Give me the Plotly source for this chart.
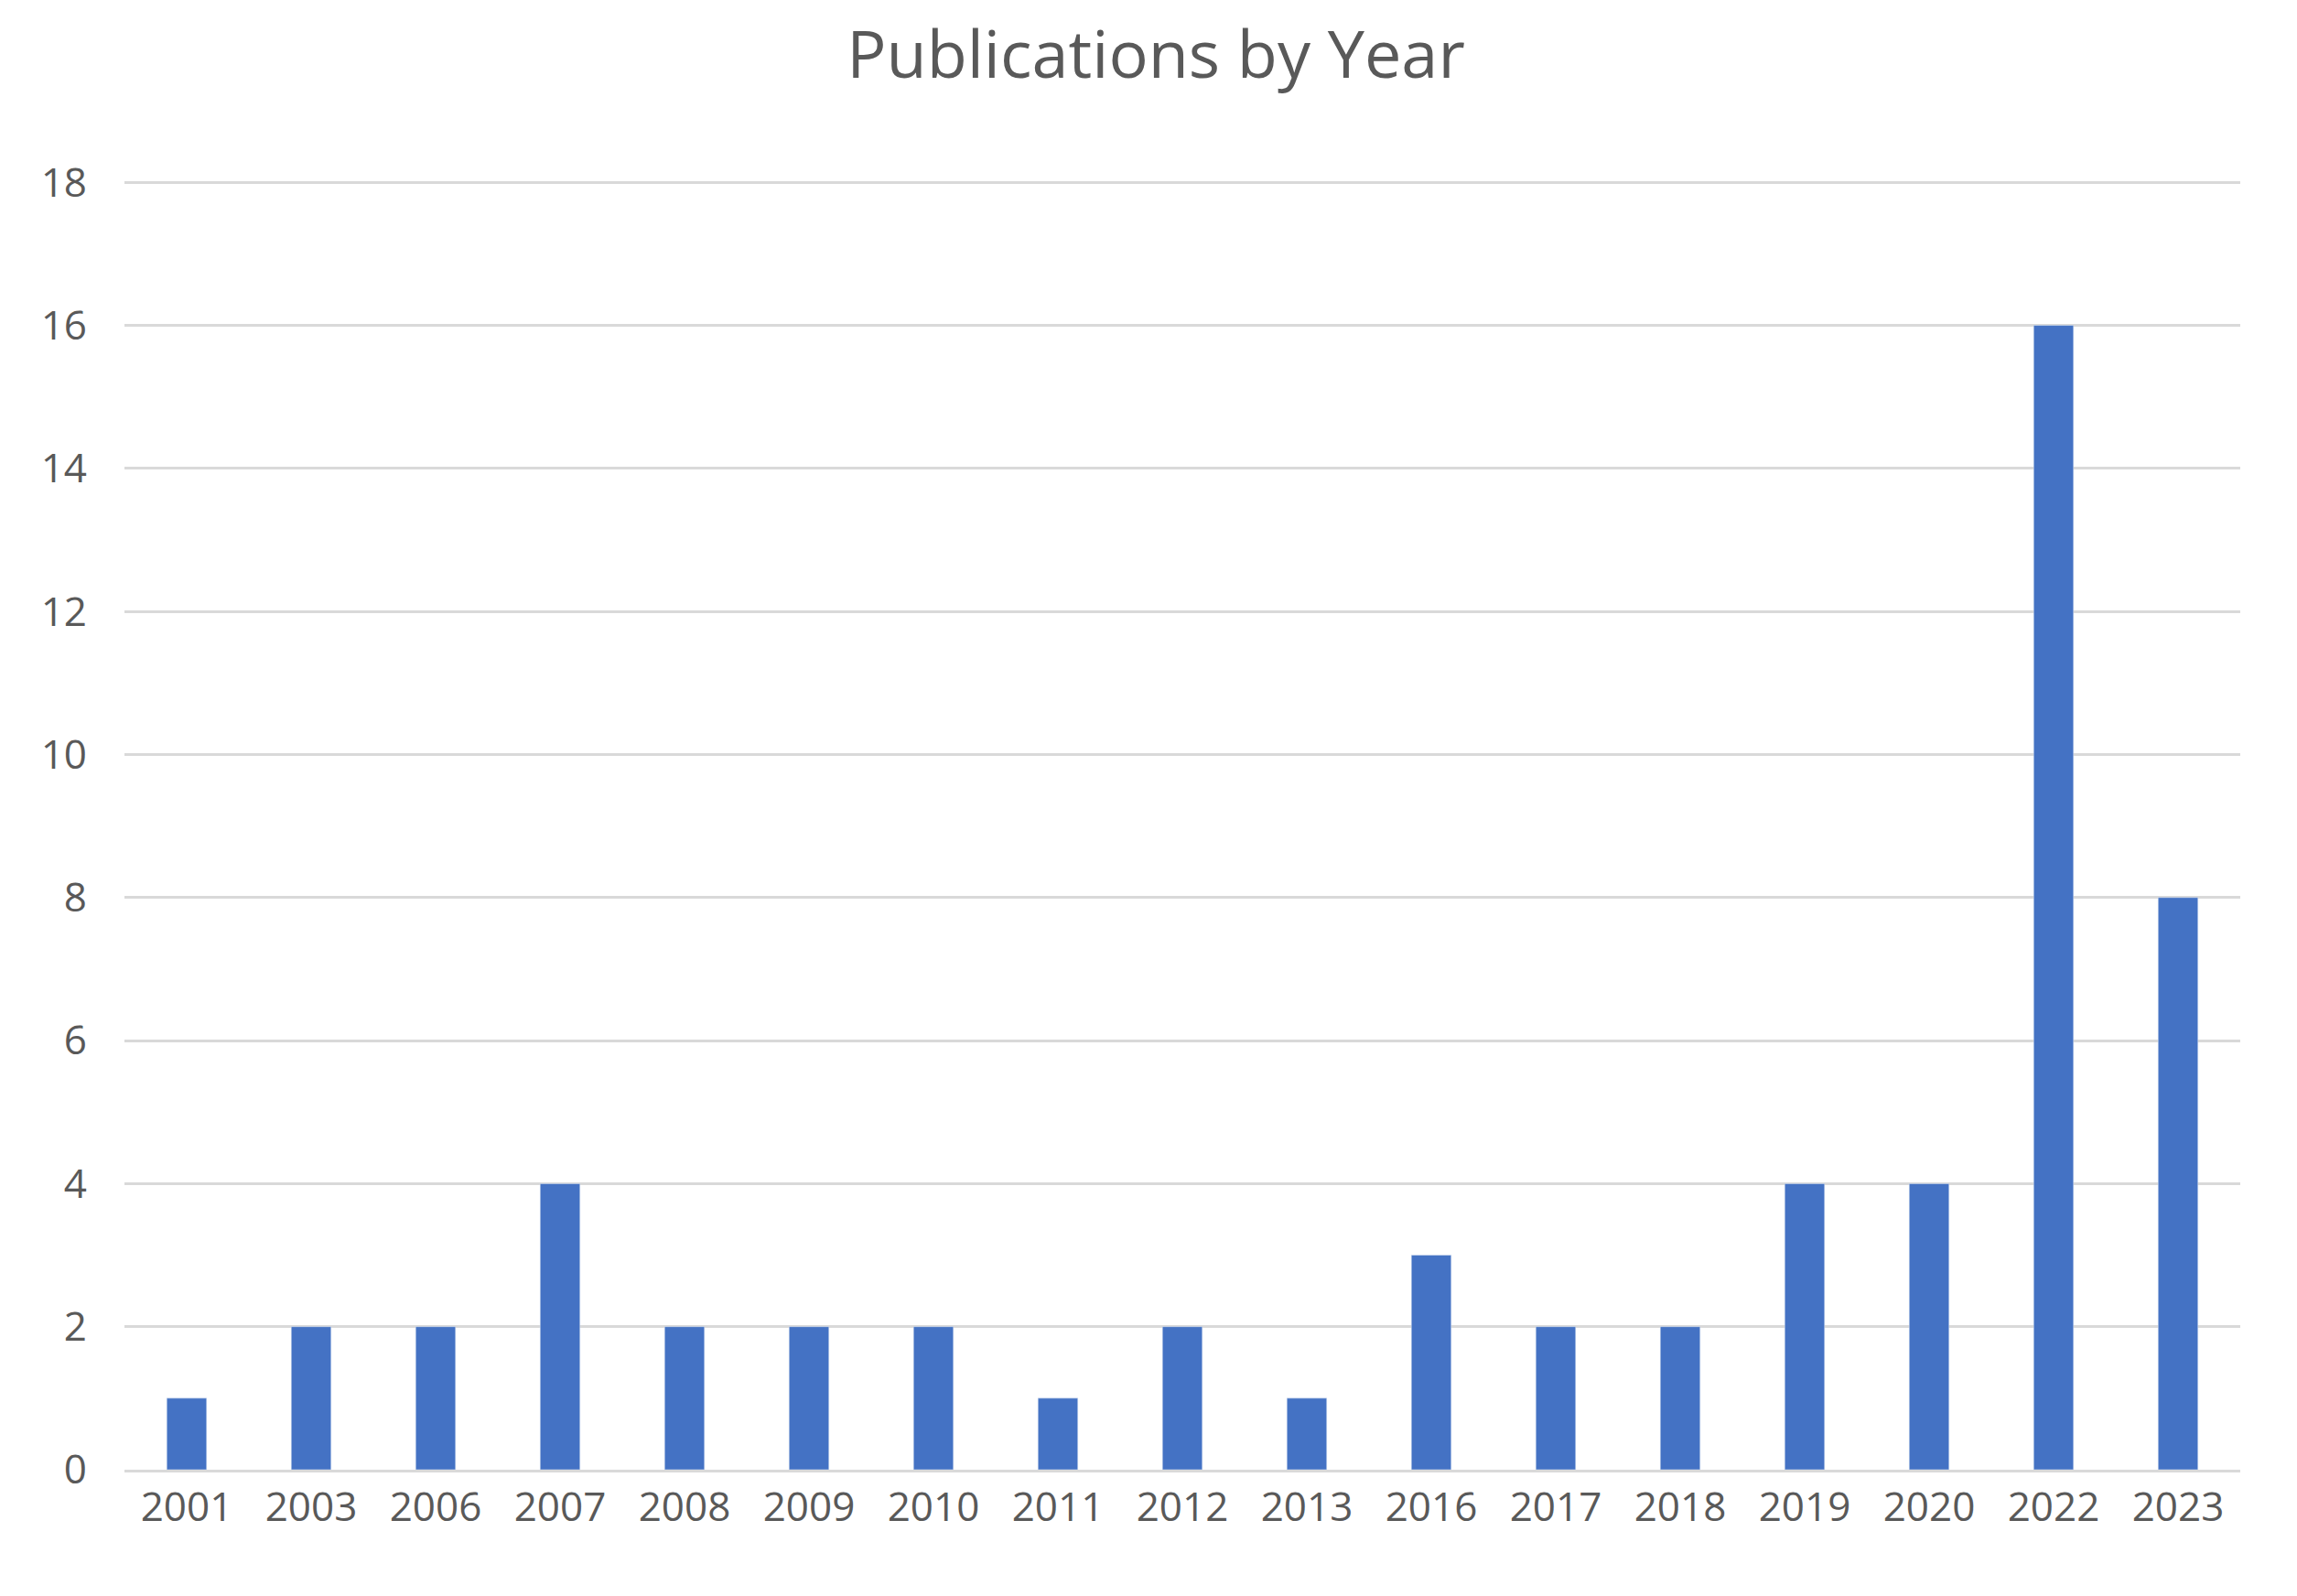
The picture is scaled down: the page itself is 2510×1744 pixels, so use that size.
import plotly.graph_objects as go

years = ["2001","2003","2006","2007","2008","2009","2010","2011","2012","2013","2016","2017","2018","2019","2020","2022","2023"]
counts = [1,2,2,4,2,2,2,1,2,1,3,2,2,4,4,16,8]
y_ticks = [0,2,4,6,8,10,12,14,16,18]

fig = go.Figure(go.Bar(x=years, y=counts, marker_color="#4472C4", width=0.32))
fig.update_layout(
    width=2510, height=1744,
    paper_bgcolor="white", plot_bgcolor="white",
    title=dict(text="Publications by Year", x=0.5, xanchor="center", y=0.985, yanchor="top",
               font=dict(family="Open Sans", size=72, color="#595959")),
    margin=dict(l=128, r=70, t=185, b=146),
    font=dict(family="Open Sans", size=44, color="#595959"),
    showlegend=False,
)
fig.update_xaxes(type="category", showgrid=False, showline=True, linecolor="#D9D9D9", linewidth=3,
                 ticks="", tickfont=dict(size=44, color="#595959"))
fig.update_yaxes(range=[0,18.08], tickvals=y_ticks, showgrid=True, gridcolor="#D9D9D9", gridwidth=3,
                 zeroline=False, ticks="", ticklabelstandoff=40, tickfont=dict(size=44, color="#595959"))
fig.write_html("out.html")
